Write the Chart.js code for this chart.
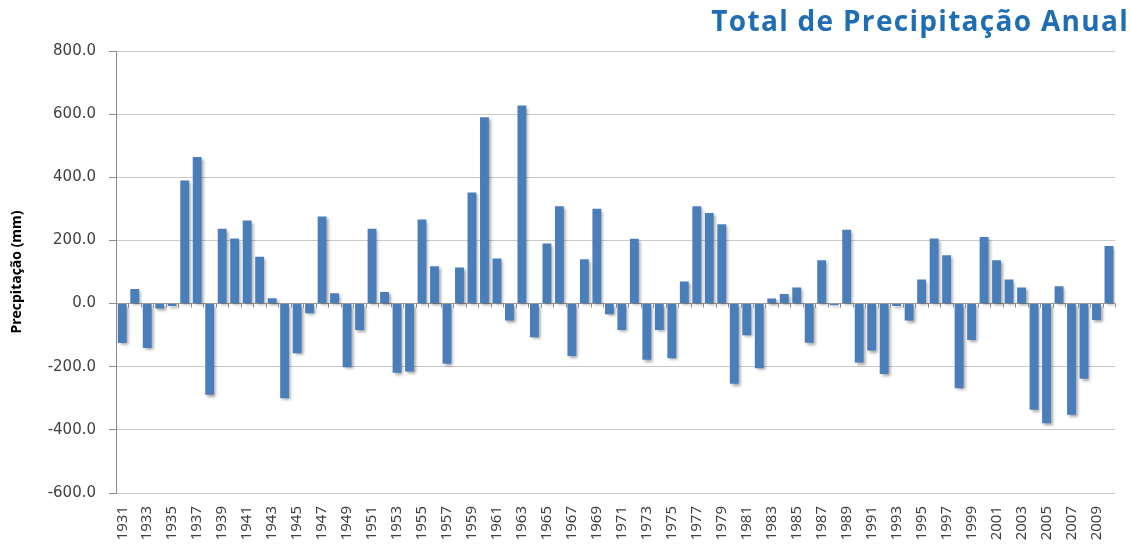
<!DOCTYPE html>
<html>
<head>
<meta charset="utf-8">
<title>Total de Precipitação Anual</title>
<script src="https://cdn.jsdelivr.net/npm/chart.js@4.4.1/dist/chart.umd.min.js"></script>
<style>
  html, body { margin: 0; padding: 0; background: #fff; overflow: hidden; }
  #wrap { position: relative; width: 1131px; height: 544px; overflow: hidden; }
  #chart { position: absolute; left: 0; top: 0; }
  #title {
    position: absolute; right: 2px; top: 6px;
    font: bold 28px/28px "Open Sans", sans-serif; color: #1f6eb4;
    letter-spacing: 1.3px; white-space: nowrap;
  }
</style>
</head>
<body>
<div id="wrap">
  <canvas id="chart" width="1140" height="544"></canvas>
  <div id="title">Total de Precipitação Anual</div>
</div>
<script>
/* ── Data ─────────────────────────────────────────────────── */
var years = [
  "1931","1932","1933","1934","1935","1936","1937","1938","1939","1940",
  "1941","1942","1943","1944","1945","1946","1947","1948","1949","1950",
  "1951","1952","1953","1954","1955","1956","1957","1958","1959","1960",
  "1961","1962","1963","1964","1965","1966","1967","1968","1969","1970",
  "1971","1972","1973","1974","1975","1976","1977","1978","1979","1980",
  "1981","1982","1983","1984","1985","1986","1987","1988","1989","1990",
  "1991","1992","1993","1994","1995","1996","1997","1998","1999","2000",
  "2001","2002","2003","2004","2005","2006","2007","2008","2009","2010"
];

// desvio da precipitação anual (mm)
var anomaly = [
  -125,   46, -141,  -16,   -8,  390,  464, -289,  237,  206,
   263,  148,   17, -300, -157,  -31,  276,   33, -202,  -84,
   237,   37, -219, -215,  266,  118, -191,  114,  352,  590,
   143,  -54,  627, -107,  190,  308, -166,  140,  300,  -34,
   -84,  205, -178,  -84, -173,   70,  308,  287,  251, -254,
  -100, -205,   16,   30,   51, -124,  137,   -5,  234, -187,
  -149, -223,   -8,  -54,   76,  206,  153, -268, -115,  211,
   137,   76,   51, -336, -379,   55, -352, -238,  -52,  182
];

var yMin = -600, yMax = 800, yStep = 200;
var yTitle = "Precpitação (mm)";

/* ── Plugins ──────────────────────────────────────────────── */
// soft drop shadow under the bars, like the spreadsheet original
var barShadow = {
  id: "barShadow",
  beforeDatasetsDraw: function (chart) {
    var ctx = chart.ctx;
    ctx.save();
    ctx.shadowColor = "rgba(0,0,0,0.35)";
    ctx.shadowBlur = 3;
    ctx.shadowOffsetX = 2;
    ctx.shadowOffsetY = 2;
  },
  afterDatasetsDraw: function (chart) {
    chart.ctx.restore();
  }
};

// small category tick marks hanging below the zero line
var zeroTicks = {
  id: "zeroTicks",
  beforeDatasetsDraw: function (chart) {
    var x = chart.scales.x, y = chart.scales.y, ctx = chart.ctx;
    var y0 = y.getPixelForValue(0);
    var half = (x.getPixelForValue(1) - x.getPixelForValue(0)) / 2;
    ctx.save();
    ctx.strokeStyle = "#8c8c8c";
    ctx.lineWidth = 1;
    ctx.beginPath();
    for (var i = 0; i <= years.length; i++) {
      var px = Math.round(x.getPixelForValue(i) - half) + 0.5;
      ctx.moveTo(px, y0);
      ctx.lineTo(px, y0 + 4);
    }
    ctx.stroke();
    ctx.restore();
  }
};

/* ── Chart ────────────────────────────────────────────────── */
new Chart(document.getElementById("chart"), {
  type: "bar",
  data: {
    labels: years,
    datasets: [{
      data: anomaly,
      backgroundColor: "#4a7ebb",
      borderWidth: 0,
      barPercentage: 0.71,
      categoryPercentage: 1.0
    }]
  },
  options: {
    responsive: false,
    animation: false,
    layout: { padding: { top: 51, right: 5, left: 0, bottom: 0 } },
    plugins: {
      legend: { display: false },
      tooltip: { enabled: false },
      title: { display: false }
    },
    scales: {
      x: {
        grid: { display: false, drawTicks: false },
        border: { display: false },
        ticks: {
          autoSkip: false,
          minRotation: 90,
          maxRotation: 90,
          padding: 13,
          color: "#404040",
          font: { family: "'Noto Sans', sans-serif", size: 15 },
          callback: function (v, i) { return i % 2 === 0 ? years[i] : ""; }
        },
        afterFit: function (scale) { scale.height = 51; }
      },
      y: {
        min: yMin,
        max: yMax,
        grid: {
          color: function (c) { return c.tick && c.tick.value === 0 ? "#9a9a9a" : "#c9c9c9"; },
          tickColor: "#8c8c8c",
          tickLength: 7
        },
        border: { display: true, color: "#8c8c8c" },
        ticks: {
          stepSize: yStep,
          padding: 13,
          color: "#404040",
          font: { family: "'DejaVu Sans', sans-serif", size: 15 },
          callback: function (v) { return v.toFixed(1); }
        },
        title: {
          display: true,
          text: yTitle,
          color: "#000",
          font: { family: "'Open Sans', sans-serif", size: 14, weight: "bold" },
          padding: { top: 9, bottom: 0 }
        },
        afterFit: function (scale) { scale.width = 116; }
      }
    }
  },
  plugins: [zeroTicks, barShadow]
});
</script>
</body>
</html>
